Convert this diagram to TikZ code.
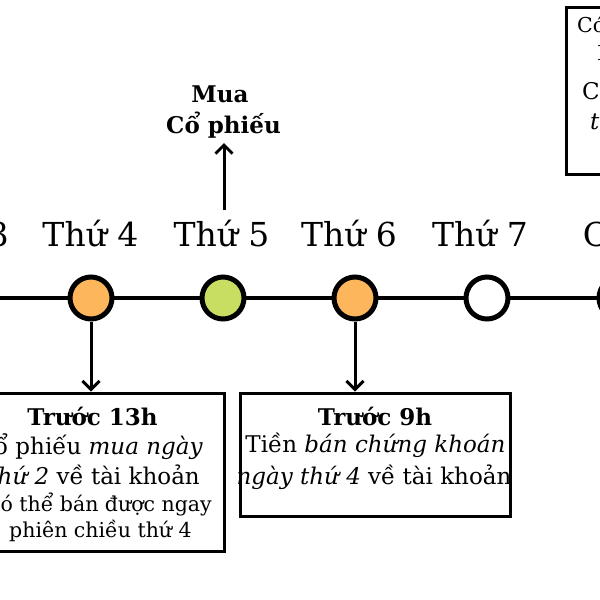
\documentclass[tikz,border=0pt]{standalone}
\usepackage{fontspec}
\setmainfont{DejaVu Serif}
\usetikzlibrary{arrows.meta}
\definecolor{dayorange}{HTML}{FDB65B}
\definecolor{daygreen}{HTML}{C8DE62}
\begin{document}
\begin{tikzpicture}[x=1pt,y=-1pt,
  daydot/.style={circle,draw=black,line width=5pt,minimum size=42pt,inner sep=0pt},
  daylabel/.style={font=\fontsize{33}{38}\selectfont,inner sep=0pt,anchor=base},
  infobox/.style={draw=black,line width=3pt,inner sep=0pt,fill=white},
  boxtitle/.style={font=\fontsize{23}{27}\selectfont\bfseries,inner sep=0pt,anchor=base},
  boxtext/.style={font=\fontsize{23}{27}\selectfont,inner sep=0pt,anchor=base},
  boxsmall/.style={font=\fontsize{20.5}{24}\selectfont,inner sep=0pt,anchor=base},
  conn/.style={line width=3pt,-{Straight Barb[length=8.5pt,width=17pt]}}
]
\useasboundingbox (0,0) rectangle (600,600);
\clip (0,0) rectangle (600,600);
\fill[white] (0,0) rectangle (600,600);

% timeline
\coordinate (lineL) at (-100,298);
\coordinate (lineR) at (700,298);
\draw[line width=3.5pt] (lineL) -- (lineR);

% day dots
\node[daydot,fill=white] (d3) at (-41,298) {};
\node[daydot,fill=dayorange] (d4) at (91,298) {};
\node[daydot,fill=daygreen] (d5) at (223,298) {};
\node[daydot,fill=dayorange] (d6) at (355,298) {};
\node[daydot,fill=white] (d7) at (487,298) {};
\node[daydot,fill=white] (dcn) at (620,298) {};

% day labels
\node[daylabel] (l3) at (-39,246) {Thứ 3};
\node[daylabel] (l4) at (90.5,246) {Thứ 4};
\node[daylabel] (l5) at (221.5,246) {Thứ 5};
\node[daylabel] (l6) at (349,246) {Thứ 6};
\node[daylabel] (l7) at (480,246) {Thứ 7};
\node[daylabel] (lcn) at (610,246) {CN};

% buy label
\node[boxtitle] (mua) at (220,102) {Mua};
\node[boxtitle] (cophieu) at (223.5,133) {Cổ phiếu};
\coordinate (buyStart) at (224,210);
\draw[conn] (buyStart) -- (buyStart |- 0,143);

% box 1
\node[infobox,minimum width=264pt,minimum height=158pt] (box1) at (92,472) {};
\node[boxtitle] (b1t) at (92.5,425) {Trước 13h};
\node[boxtext,anchor=base east] (b1a) at (203,454) {Cổ phiếu \textit{mua ngày}};
\node[boxtext,anchor=base east] (b1b) at (200,484) {\textit{thứ 2} về tài khoản};
\node[boxsmall,anchor=base east] (b1c) at (212,511) {Có thể bán được ngay};
\node[boxsmall] (b1d) at (100.5,537) {phiên chiều thứ 4};

% box 2
\node[infobox,minimum width=270pt,minimum height=123pt] (box2) at (375,454.5) {};
\node[boxtitle] (b2t) at (375,425) {Trước 9h};
\node[boxtext] (b2a) at (375.5,452) {Tiền \textit{bán chứng khoán}};
\node[boxtext] (b2b) at (374,484) {\textit{ngày thứ 4} về tài khoản};

% box 3
\node[infobox,minimum width=200pt,minimum height=167pt] (box3) at (666,90.5) {};
\node[boxsmall,anchor=base west] (b3a) at (577,32) {Có thể rút tiền};
\node[boxsmall,anchor=base west] (b3b) at (597,60) {Rút tiền};
\node[boxtext,anchor=base west] (b3c) at (582,99) {Cổ phiếu};
\node[boxtext,anchor=base west] (b3d) at (590,129) {\textit{thứ 2}};

% connectors
\draw[conn] (d4.south) -- (d4.south |- box1.north);
\draw[conn] (d6.south) -- (d6.south |- box2.north);
\end{tikzpicture}
\end{document}
